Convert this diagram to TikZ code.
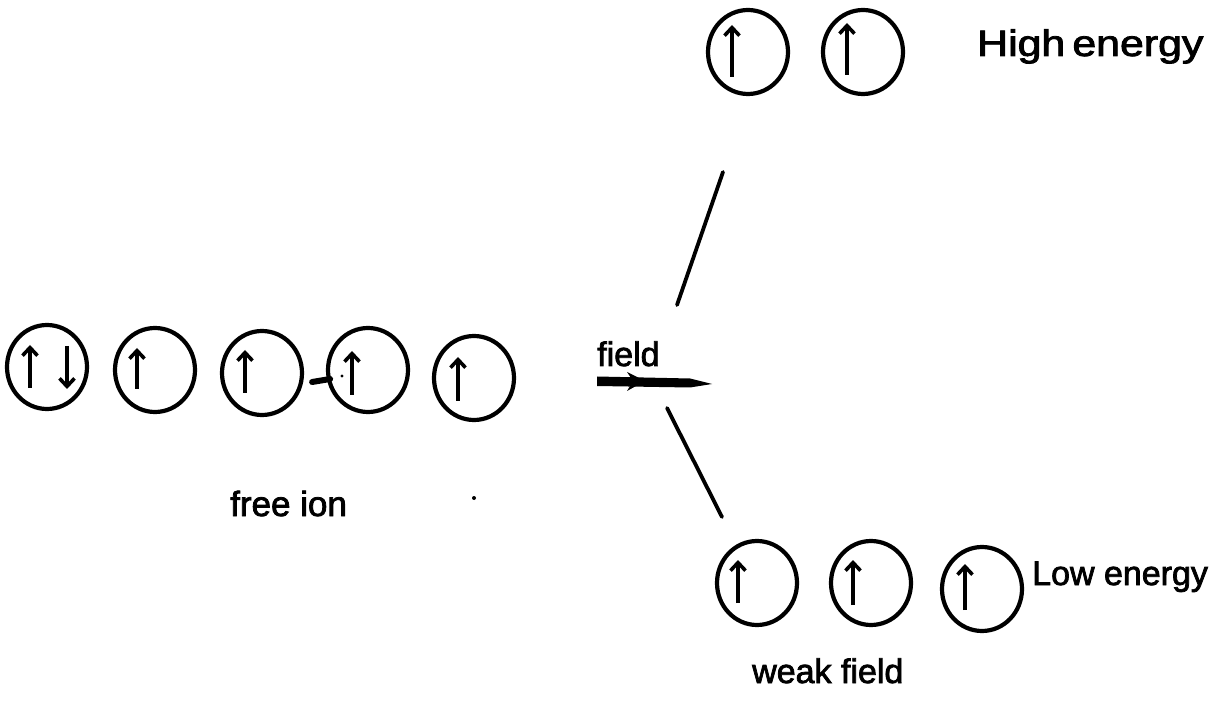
\documentclass[tikz,border=0pt]{standalone}
\usepackage{fontspec}
\setmainfont{Liberation Sans}
\newfontfamily\lblfont{Liberation Sans}[FakeBold=2.2]
\usetikzlibrary{arrows.meta,shapes.geometric}
\begin{document}
\begin{tikzpicture}[x=1pt,y=-1pt,
  orb/.style={draw,ellipse,line width=4.2pt,minimum width=80pt,minimum height=84pt,inner sep=0pt},
  spin/.style={line width=3.8pt,-{Straight Barb[length=8pt,width=15pt,line width=3.6pt]}},
  lbl/.style={font=\lblfont\fontsize{34}{40}\selectfont,inner sep=0pt,anchor=base west},
  stroke/.style={line width=3.8pt,line cap=round}]
\useasboundingbox (0,0) rectangle (1227,719);
% free ion
\node[orb] (f1) at (47,367) {};
\node[orb] (f2) at (155,370) {};
\node[orb] (f3) at (262,373) {};
\node[orb] (f4) at (368,370) {};
\node[orb] (f5) at (474,378) {};
\draw[spin] (f1.center) ++(-17,21) -- ++(0,-43);
\draw[spin] (f1.center) ++(20,-21) -- ++(0,43);
\draw[spin] (f2.center) ++(-18,19) -- ++(0,-41);
\draw[spin] (f3.center) ++(-17,20) -- ++(0,-43);
\draw[spin] (f4.center) ++(-16,25) -- ++(0,-44);
\draw[spin] (f5.center) ++(-16,23) -- ++(0,-44);
\draw[line width=6pt,line cap=round] (f3.east) ++(8,9) -- ++(18,-3);
\fill (342,376) circle (1.6);
\node[lbl,font=\lblfont\fontsize{35}{40}\selectfont] (freeion) at (230,516) {free ion};
\fill (474,498) circle (2);
% field arrow
\node[lbl] (field) at (597,366) {field};
\coordinate (fa) at (597,381);
\coordinate (fb) at (712,384);
\fill (fa) ++(0,-4.5) -- (690,378.5) -- (fb) -- (690,387.5) -- (597,386) -- cycle;
\fill (627,372) -- (645,381) -- (627,391) -- (633,381) -- cycle;
% splitting lines
\coordinate (u1) at (677,305);
\coordinate (u2) at (723,172);
\coordinate (l1) at (667,408);
\coordinate (l2) at (722,517);
\draw[stroke] (u1) -- (u2);
\draw[stroke] (l1) -- (l2);
% high energy
\node[orb] (h1) at (748,52) {};
\node[orb] (h2) at (863,52) {};
\draw[spin] (h1.center) ++(-16,25) -- ++(0,-52);
\draw[spin] (h2.center) ++(-16,23) -- ++(0,-52);
\node[lbl] (high) at (977,56) {\scalebox{1.26}[1.08]{High\,energy}};
% low energy
\node[orb] (g1) at (757,583) {};
\node[orb] (g2) at (871,583) {};
\node[orb] (g3) at (982,589) {};
\draw[spin] (g1.center) ++(-19,20) -- ++(0,-43);
\draw[spin] (g2.center) ++(-18,22) -- ++(0,-45);
\draw[spin] (g3.center) ++(-17,21) -- ++(0,-46);
\node[lbl] (low) at (1032,585) {Low energy};
\node[lbl] (weak) at (752,683) {weak field};
\end{tikzpicture}
\end{document}
